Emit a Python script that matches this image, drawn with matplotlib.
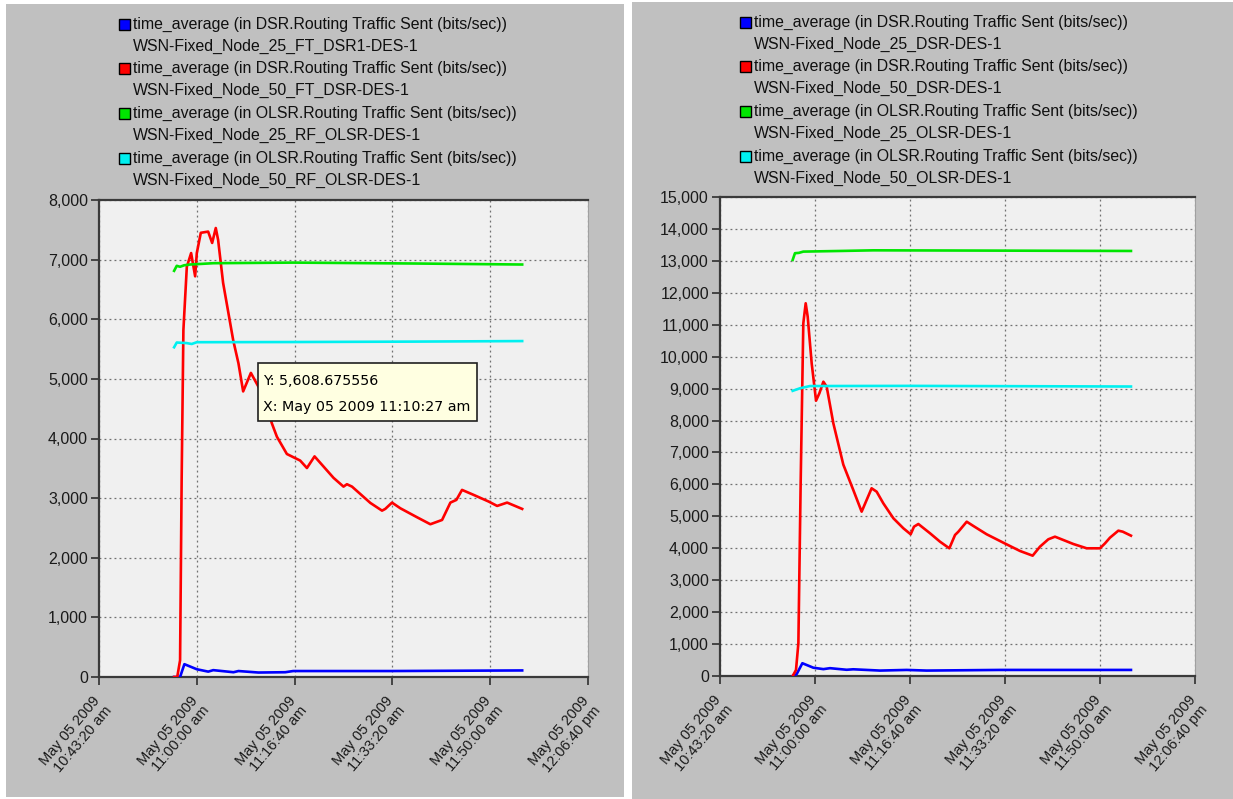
import matplotlib
matplotlib.use("Agg")
import matplotlib.pyplot as plt
import matplotlib.transforms as mtransforms
from matplotlib.patches import Rectangle
import pandas as pd

# time axis: seconds after May 05 2009 10:43:20 am
base_time = pd.Timestamp("2009-05-05 10:43:20")
tick_secs = [0, 1000, 2000, 3000, 4000, 5000]
tick_labels = ["May 05 2009\n10:43:20 am", "May 05 2009\n11:00:00 am", "May 05 2009\n11:16:40 am",
               "May 05 2009\n11:33:20 am", "May 05 2009\n11:50:00 am", "May 05 2009\n12:06:40 pm"]

# ---- left chart (FT / RF scenarios)
left_legend = ["WSN-Fixed_Node_25_FT_DSR1-DES-1", "WSN-Fixed_Node_50_FT_DSR-DES-1",
               "WSN-Fixed_Node_25_RF_OLSR-DES-1", "WSN-Fixed_Node_50_RF_OLSR-DES-1"]
blue_left_t = [768, 829, 873, 1000, 1117, 1168, 1375, 1426, 1630, 1904, 1985, 3000, 4327]
blue_left_v = [0, 0, 215, 130, 90, 115, 80, 100, 75, 80, 100, 100, 110]
red_left_t = [768, 800, 829, 845, 863, 898, 942, 983, 1000, 1041, 1116, 1157, 1194, 1218, 1269, 1372,
              1426, 1474, 1553, 1648, 1716, 1767, 1819, 1921, 2057, 2126, 2204, 2398, 2500, 2535, 2587,
              2774, 2894, 2927, 2996, 3081, 3252, 3388, 3508, 3593, 3654, 3712, 3831, 3985, 4071, 4173, 4327]
red_left_v = [0, 0, 280, 3300, 5820, 6880, 7110, 6720, 7110, 7450, 7470, 7280, 7530, 7330, 6610, 5650,
              5260, 4790, 5100, 4815, 4536, 4256, 4030, 3740, 3630, 3505, 3700, 3340, 3193, 3233, 3193,
              2920, 2790, 2819, 2925, 2830, 2679, 2562, 2634, 2925, 2970, 3138, 3054, 2942, 2869, 2925, 2819]
green_left_t = [768, 795, 829, 870, 931, 1170, 1989, 3217, 4327]
green_left_v = [6812, 6896, 6880, 6905, 6918, 6940, 6950, 6935, 6918]
cyan_left_t = [768, 795, 897, 948, 1000, 1989, 3217, 4327]
cyan_left_v = [5530, 5610, 5600, 5585, 5615, 5618, 5625, 5634]

# ---- right chart
right_legend = ["WSN-Fixed_Node_25_DSR-DES-1", "WSN-Fixed_Node_50_DSR-DES-1",
                "WSN-Fixed_Node_25_OLSR-DES-1", "WSN-Fixed_Node_50_OLSR-DES-1"]
blue_right_t = [765, 807, 867, 982, 1088, 1158, 1333, 1403, 1684, 1965, 2175, 2947, 4326]
blue_right_v = [0, 60, 400, 260, 215, 245, 195, 210, 170, 190, 170, 190, 190]
red_right_t = [765, 800, 825, 849, 877, 902, 923, 965, 1011, 1046, 1088, 1123, 1193, 1298, 1403, 1491,
               1596, 1649, 1719, 1825, 1930, 2007, 2042, 2088, 2211, 2316, 2414, 2474, 2509, 2597, 2667,
               2807, 2982, 3158, 3291, 3368, 3456, 3526, 3614, 3719, 3860, 4000, 4053, 4105, 4193, 4239, 4326]
red_right_v = [0, 188, 1023, 6035, 11046, 11672, 11253, 9793, 8622, 8853, 9216, 9060, 7914, 6620, 5825, 5146,
               5878, 5772, 5408, 4939, 4626, 4438, 4676, 4760, 4469, 4206, 3999, 4416, 4519, 4832, 4698,
               4438, 4175, 3915, 3768, 4050, 4281, 4363, 4259, 4134, 3999, 3999, 4155, 4332, 4551, 4520, 4395]
green_right_t = [765, 789, 830, 877, 1263, 1614, 3018, 4326]
green_right_v = [13030, 13240, 13250, 13290, 13310, 13330, 13320, 13310]
cyan_right_t = [765, 842, 947, 2000, 3200, 4326]
cyan_right_v = [8930, 9010, 9080, 9085, 9075, 9065]

legend_title = ["time_average (in DSR.Routing Traffic Sent (bits/sec))",
                "time_average (in DSR.Routing Traffic Sent (bits/sec))",
                "time_average (in OLSR.Routing Traffic Sent (bits/sec))",
                "time_average (in OLSR.Routing Traffic Sent (bits/sec))"]
colors = ["#0000ff", "#ff0000", "#00e600", "#00f0f0"]

W, H = 1233, 799
FONT = "Liberation Sans"
fig = plt.figure(figsize=(W / 100, H / 100), dpi=100, facecolor="white")


def fx(px):
    return px / W


def fy(py):
    return 1 - py / H


def to_time(secs):
    return base_time + pd.to_timedelta(secs, unit="s")


# gray panels (behind the axes)
fig.patches.append(Rectangle((fx(6), fy(797)), fx(618), 793 / H, transform=fig.transFigure,
                             facecolor="#c0c0c0", edgecolor="none", zorder=-5))
fig.patches.append(Rectangle((fx(632), 0), fx(601), 797 / H, transform=fig.transFigure,
                             facecolor="#c0c0c0", edgecolor="none", zorder=-5))


def draw_legend(x_sq, y0, names):
    for i in range(4):
        y1 = y0 + i * 44.7
        fig.patches.append(Rectangle((fx(x_sq), fy(y1 + 5.5)), 11 / W, 11 / H, transform=fig.transFigure,
                                     facecolor=colors[i], edgecolor="black", linewidth=1, zorder=2))
        fig.text(fx(x_sq + 14), fy(y1), legend_title[i], ha="left", va="center",
                 fontsize=11.4, family=FONT, color="#101010")
        fig.text(fx(x_sq + 14), fy(y1 + 22), names[i], ha="left", va="center",
                 fontsize=11.4, family=FONT, color="#101010")


def draw_chart(rect, series, ymax):
    ax = fig.add_axes(rect)
    ax.set_facecolor("#f0f0f0")
    for (t, v), c in zip(series, colors):
        ax.plot(to_time(t), v, color=c, linewidth=1.9, zorder=3)
    ax.set_xlim(to_time(0), to_time(5000))
    ax.set_ylim(0, ymax)
    ax.set_xticks(to_time(tick_secs))
    ax.set_xticklabels(tick_labels)
    yt = list(range(0, ymax + 1, 1000))
    ax.set_yticks(yt)
    ax.set_yticklabels([f"{v:,}" for v in yt])
    ax.grid(True, color="#707070", linestyle=(0, (1.5, 2.5)), linewidth=0.9)
    for s in ["left", "bottom", "top"]:
        ax.spines[s].set_color("#3a3a3a")
        ax.spines[s].set_linewidth(1.6)
    ax.spines["right"].set_color("#a0a0a0")
    ax.tick_params(direction="out", length=6, width=1.3, color="#3a3a3a", labelcolor="#1a1a1a",
                   labelsize=11.5, pad=2)
    ax.tick_params(axis="x", pad=6, labelsize=10.5)
    off = mtransforms.ScaledTranslation(-5 / 72, 0, fig.dpi_scale_trans)
    for lab in ax.get_xticklabels():
        lab.set_rotation(50)
        lab.set_ha("right")
        lab.set_va("top")
        lab.set_rotation_mode("anchor")
        lab.set_multialignment("right")
        lab.set_family(FONT)
        lab.set_linespacing(1.1)
        lab.set_transform(lab.get_transform() + off)
    for lab in ax.get_yticklabels():
        lab.set_family(FONT)
    return ax


draw_legend(119, 24, left_legend)
draw_legend(740, 22, right_legend)

ax1 = draw_chart([fx(99), fy(677), 489 / W, 477 / H],
                 [(blue_left_t, blue_left_v), (red_left_t, red_left_v),
                  (green_left_t, green_left_v), (cyan_left_t, cyan_left_v)], 8000)
ax2 = draw_chart([fx(720), fy(676), 475 / W, 479 / H],
                 [(blue_right_t, blue_right_v), (red_right_t, red_right_v),
                  (green_right_t, green_right_v), (cyan_right_t, cyan_right_v)], 15000)

# hover tooltip on the left chart
fig.patches.append(Rectangle((fx(258), fy(421)), 219 / W, 58 / H, transform=fig.transFigure,
                             facecolor="#ffffe1", edgecolor="#202020", linewidth=1.2, zorder=5))
fig.text(fx(263), fy(381), "Y: 5,608.675556", ha="left", va="center", fontsize=10.3,
         family="DejaVu Sans", color="black", zorder=6)
fig.text(fx(263), fy(407), "X: May 05 2009 11:10:27 am", ha="left", va="center", fontsize=10.3,
         family="DejaVu Sans", color="black", zorder=6)

fig.savefig("out.png", dpi=100, facecolor="white")
